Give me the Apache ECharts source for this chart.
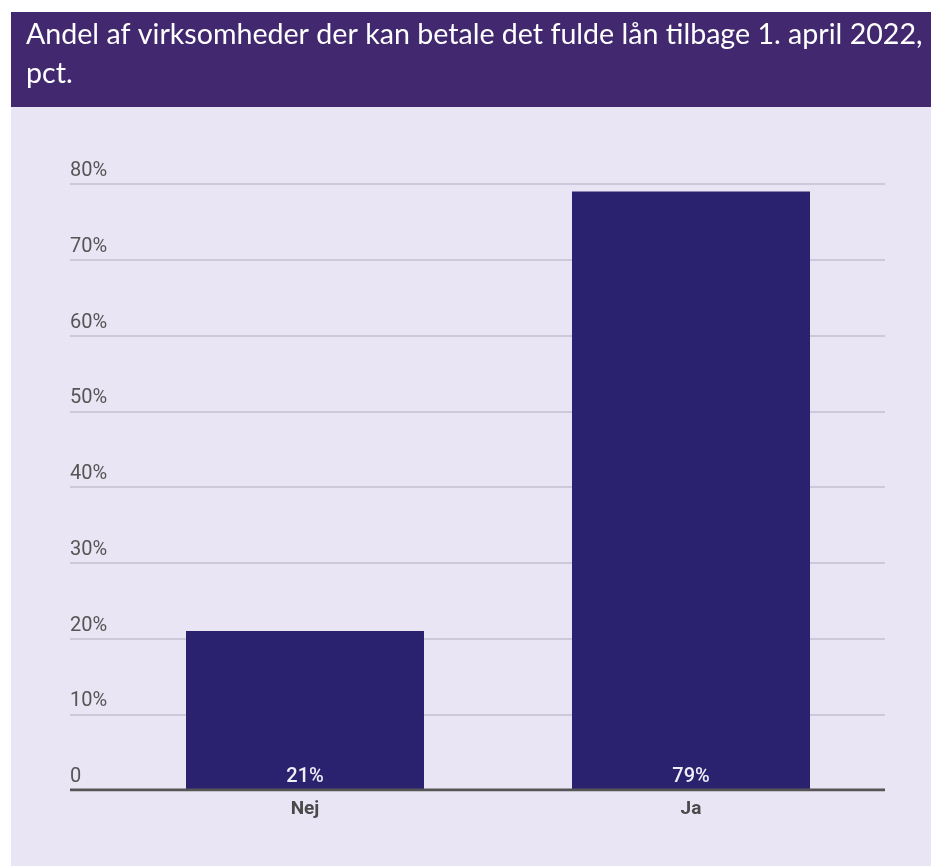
<!DOCTYPE html>
<html>
<head>
<meta charset="utf-8">
<style>
html,body{margin:0;padding:0;background:#fff;}
#c{width:931px;height:866px;}
</style>
<script src="https://cdn.jsdelivr.net/npm/echarts@6/dist/echarts.min.js"></script>
</head>
<body>
<div id="c"></div>
<script>
const titleLines = ['Andel af virksomheder der kan betale det fulde lån tilbage 1. april 2022,', 'pct.'];
const categories = ['Nej', 'Ja'];
const values = [21, 79];
const yTicks = [0, 10, 20, 30, 40, 50, 60, 70, 80];

const chart = echarts.init(document.getElementById('c'), null, {renderer: 'canvas'});
const fmt = v => v === 0 ? '0' : v + '%';
chart.setOption({
  animation: false,
  backgroundColor: '#ffffff',
  graphic: [
    {type: 'rect', shape: {x: 11, y: 12, width: 920, height: 95}, style: {fill: '#42296F'}, z: 0},
    {type: 'rect', shape: {x: 11, y: 107, width: 920, height: 759}, style: {fill: '#E9E5F5'}, z: 0},
    {type: 'text', left: 26, top: 15, z: 10, style: {text: titleLines.join('\n'), fill: '#ffffff', font: '28.6px Lato', lineHeight: 39}}
  ],
  grid: [
    {left: 70, right: 46, top: 184, bottom: 76},
    {left: 112, right: 47, top: 184, bottom: 76}
  ],
  xAxis: [
    {gridIndex: 0, type: 'value', min: 0, max: 1, show: false},
    {gridIndex: 1, type: 'category', data: categories,
     axisLine: {show: false}, axisTick: {show: false},
     axisLabel: {color: '#4a4a4a', fontFamily: 'Roboto', fontSize: 19, fontWeight: 'bold', margin: 10}}
  ],
  yAxis: [
    {gridIndex: 0, type: 'value', min: 0, max: 80, interval: 10,
     axisLine: {show: false}, axisTick: {show: false},
     splitLine: {lineStyle: {color: '#CDC8DA', width: 2}},
     axisLabel: {inside: true, margin: 0, align: 'left', verticalAlign: 'bottom', padding: [0, 0, 3, 0],
       color: '#555555', fontFamily: 'Roboto', fontSize: 20, formatter: fmt}},
    {gridIndex: 1, type: 'value', min: 0, max: 80, interval: 10, show: false}
  ],
  series: [
    {type: 'bar', xAxisIndex: 1, yAxisIndex: 1, data: values, barWidth: 238, z: 3,
     itemStyle: {color: '#2A226E'},
     label: {show: true, position: 'insideBottom', distance: 3, color: '#F0EEF8', fontFamily: 'Roboto', fontSize: 20, fontWeight: 500, formatter: p => p.value + '%'}},
    {type: 'line', xAxisIndex: 0, yAxisIndex: 0, data: [[0, 0], [1, 0]], symbol: 'none', silent: true, z: 5,
     lineStyle: {color: '#555555', width: 3}}
  ]
});
</script>
</body>
</html>
